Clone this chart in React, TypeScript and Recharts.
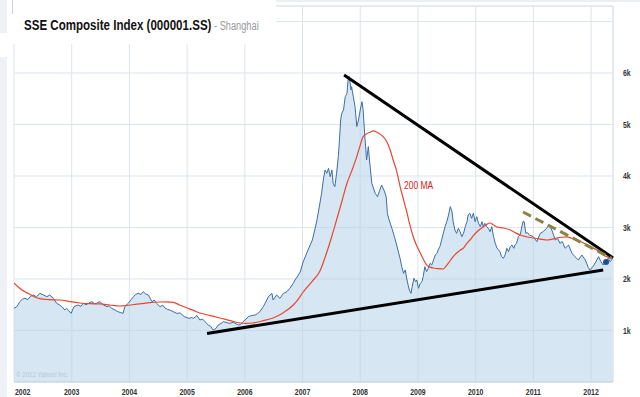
import React from 'react';
import {ComposedChart, Area, Line, XAxis, YAxis, CartesianGrid, ReferenceLine, ReferenceDot} from 'recharts';

// weekly close: [year fraction, index]
const close2002to2004: [number, number][] = [
  [2002.0, 1431], [2002.05, 1463], [2002.1, 1560], [2002.15, 1610], [2002.19, 1625], [2002.24, 1600],
  [2002.28, 1657], [2002.33, 1689], [2002.39, 1657], [2002.45, 1722], [2002.51, 1689], [2002.57, 1657],
  [2002.62, 1689], [2002.68, 1625], [2002.74, 1528], [2002.79, 1495], [2002.83, 1463], [2002.88, 1398],
  [2002.91, 1431], [2002.95, 1380], [2002.99, 1333], [2003.04, 1463], [2003.11, 1495], [2003.16, 1470],
  [2003.2, 1528], [2003.25, 1500], [2003.29, 1528], [2003.35, 1560], [2003.4, 1520], [2003.43, 1528],
  [2003.49, 1560], [2003.55, 1495], [2003.61, 1463], [2003.65, 1480], [2003.69, 1431], [2003.75, 1398],
  [2003.8, 1366], [2003.84, 1350], [2003.89, 1333], [2003.92, 1463], [2003.98, 1528], [2004.03, 1600],
  [2004.07, 1657], [2004.11, 1700], [2004.15, 1722], [2004.2, 1700], [2004.24, 1754], [2004.28, 1710],
  [2004.33, 1689], [2004.39, 1560], [2004.43, 1590], [2004.47, 1528], [2004.53, 1463], [2004.58, 1490],
  [2004.62, 1431], [2004.66, 1410], [2004.7, 1398], [2004.76, 1366], [2004.82, 1333], [2004.88, 1340],
  [2004.95, 1270],
];

const close2005to2007: [number, number][] = [
  [2005.03, 1236], [2005.08, 1250], [2005.11, 1236], [2005.17, 1290], [2005.22, 1204], [2005.27, 1220],
  [2005.31, 1172], [2005.37, 1100], [2005.41, 1080], [2005.45, 1010], [2005.5, 1040], [2005.54, 1107],
  [2005.59, 1140], [2005.63, 1172], [2005.7, 1150], [2005.74, 1139], [2005.8, 1160], [2005.85, 1130],
  [2005.89, 1107], [2005.93, 1120], [2005.97, 1172], [2006.02, 1220], [2006.06, 1269], [2006.12, 1290],
  [2006.18, 1301], [2006.22, 1330], [2006.26, 1366], [2006.32, 1463], [2006.35, 1528], [2006.41, 1657],
  [2006.47, 1722], [2006.49, 1592], [2006.55, 1689], [2006.61, 1625], [2006.67, 1722], [2006.73, 1754],
  [2006.78, 1819], [2006.84, 1916], [2006.87, 1981], [2006.92, 2060], [2006.96, 2136], [2007.01, 2330],
  [2007.06, 2466], [2007.11, 2602], [2007.17, 2757], [2007.22, 2990],
];

const close2007to2008: [number, number][] = [
  [2007.25, 3146], [2007.29, 3400], [2007.33, 3663], [2007.36, 3922], [2007.39, 4117], [2007.42, 4052],
  [2007.45, 4149], [2007.48, 3987], [2007.51, 4117], [2007.53, 3858], [2007.56, 3793], [2007.59, 4052],
  [2007.62, 4375], [2007.64, 4699], [2007.66, 5087], [2007.68, 5217], [2007.71, 5282], [2007.74, 5540],
  [2007.77, 5605], [2007.79, 5864], [2007.81, 5930], [2007.84, 5670], [2007.85, 5734], [2007.88, 5540],
  [2007.91, 5346], [2007.94, 4958], [2007.97, 5087], [2008.0, 5282], [2008.03, 5443], [2008.05, 5282],
  [2008.08, 4763], [2008.11, 4311], [2008.14, 4569], [2008.16, 4311], [2008.2, 3858], [2008.26, 3663],
  [2008.3, 3599], [2008.34, 3728], [2008.37, 3825], [2008.41, 3728], [2008.45, 3599], [2008.47, 3275],
  [2008.5, 3146], [2008.55, 2980], [2008.6, 2790], [2008.64, 2620],
];

const close2008to2010: [number, number][] = [
  [2008.69, 2401], [2008.72, 2239], [2008.75, 2110], [2008.78, 2175], [2008.81, 1981], [2008.83, 1883],
  [2008.85, 1786], [2008.88, 1722], [2008.9, 1851], [2008.93, 2013], [2008.96, 1948], [2008.98, 1981],
  [2009.01, 1819], [2009.04, 1916], [2009.07, 1948], [2009.09, 2045], [2009.12, 2239], [2009.15, 2142],
  [2009.18, 2207], [2009.21, 2304], [2009.24, 2272], [2009.27, 2369], [2009.3, 2466], [2009.33, 2498],
  [2009.35, 2563], [2009.38, 2628], [2009.41, 2757], [2009.44, 2887], [2009.47, 3016], [2009.5, 3113],
  [2009.53, 3243], [2009.56, 3405], [2009.59, 3307], [2009.61, 3113], [2009.64, 2951], [2009.67, 2887],
  [2009.7, 2984], [2009.73, 2919], [2009.76, 2822], [2009.79, 2887], [2009.82, 3016], [2009.85, 3113],
  [2009.87, 3243], [2009.9, 3275], [2009.93, 3178], [2009.96, 3275], [2009.99, 3113], [2010.02, 3210],
  [2010.05, 3081], [2010.08, 3016], [2010.11, 3113], [2010.13, 3016], [2010.16, 3081], [2010.19, 3016],
  [2010.22, 2984], [2010.25, 2919], [2010.28, 3016], [2010.31, 2822], [2010.34, 2693], [2010.37, 2595],
  [2010.4, 2563], [2010.42, 2531], [2010.45, 2434], [2010.48, 2401], [2010.51, 2466], [2010.54, 2595],
  [2010.57, 2531], [2010.6, 2628], [2010.63, 2660], [2010.66, 2595], [2010.68, 2660], [2010.71, 2693],
  [2010.74, 2822], [2010.77, 2854],
];

const close2010to2012: [number, number][] = [
  [2010.82, 3113], [2010.84, 3113], [2010.87, 2887], [2010.9, 2900], [2010.93, 2854], [2011.0, 2822],
  [2011.06, 2725], [2011.12, 2887], [2011.17, 2919], [2011.23, 2984], [2011.27, 3049], [2011.32, 2951],
  [2011.38, 2757], [2011.42, 2790], [2011.46, 2693], [2011.5, 2730], [2011.55, 2596], [2011.61, 2660],
  [2011.67, 2499], [2011.72, 2434], [2011.78, 2369], [2011.84, 2466], [2011.9, 2369], [2011.95, 2227],
  [2011.98, 2175], [2012.04, 2252], [2012.1, 2369], [2012.13, 2434], [2012.17, 2336], [2012.21, 2272],
  [2012.26, 2369], [2012.3, 2401], [2012.33, 2336], [2012.37, 2388],
];

// 200 day moving average
const ma2002to2006: [number, number][] = [
  [2002.0, 1916], [2002.07, 1850], [2002.14, 1786], [2002.21, 1740], [2002.28, 1700], [2002.36, 1650],
  [2002.45, 1618], [2002.6, 1600], [2002.8, 1592], [2002.97, 1560], [2003.14, 1534], [2003.32, 1520],
  [2003.49, 1515], [2003.66, 1495], [2003.84, 1476], [2004.01, 1495], [2004.18, 1515], [2004.35, 1540],
  [2004.53, 1553], [2004.65, 1555], [2004.76, 1545], [2004.88, 1490], [2005.0, 1437], [2005.11, 1390],
  [2005.22, 1340], [2005.4, 1290], [2005.57, 1243], [2005.75, 1190], [2005.92, 1146], [2006.03, 1140],
  [2006.14, 1146], [2006.32, 1190], [2006.49, 1243], [2006.66, 1340], [2006.84, 1495],
];

const ma2007to2009: [number, number][] = [
  [2006.92, 1600], [2007.0, 1728], [2007.08, 1840], [2007.17, 1960], [2007.3, 2150], [2007.4, 2450],
  [2007.5, 2800], [2007.59, 3146], [2007.68, 3500], [2007.77, 3858], [2007.86, 4120], [2007.94, 4375],
  [2008.0, 4600], [2008.05, 4763], [2008.11, 4820], [2008.17, 4850], [2008.23, 4874], [2008.29, 4850],
  [2008.34, 4816], [2008.4, 4760], [2008.46, 4666], [2008.52, 4500], [2008.57, 4311], [2008.63, 4100],
  [2008.69, 3800], [2008.75, 3540], [2008.81, 3282], [2008.86, 3050], [2008.92, 2816], [2008.98, 2640],
  [2009.04, 2505], [2009.1, 2370], [2009.15, 2272], [2009.21, 2230], [2009.27, 2214], [2009.35, 2200],
  [2009.44, 2194], [2009.48, 2240], [2009.53, 2311], [2009.6, 2420], [2009.67, 2505], [2009.73, 2560],
  [2009.79, 2602], [2009.84, 2680], [2009.9, 2757], [2009.96, 2840],
];

const ma2010to2012: [number, number][] = [
  [2010.02, 2913], [2010.08, 2970], [2010.13, 3010], [2010.19, 3060], [2010.25, 3087], [2010.31, 3050],
  [2010.37, 3010], [2010.48, 2990], [2010.6, 2951], [2010.7, 2890], [2010.77, 2854], [2010.88, 2820],
  [2011.0, 2796], [2011.12, 2775], [2011.24, 2757], [2011.33, 2775], [2011.41, 2796], [2011.5, 2810],
  [2011.58, 2816], [2011.67, 2790], [2011.76, 2757], [2011.85, 2710], [2011.93, 2660], [2012.01, 2615],
  [2012.1, 2563], [2012.16, 2515], [2012.21, 2466], [2012.27, 2435], [2012.33, 2408], [2012.37, 2395],
];

// hand drawn trend lines
const upperTrend: [number, number][] = [[2007.72, 5960], [2012.38, 2410]];
const lowerTrend: [number, number][] = [[2005.345, 942], [2012.21, 2175]];
const shortTrend: [number, number][] = [[2010.82, 3301], [2012.36, 2398]];
const lastQuote: [number, number] = [2012.26, 2330];

const yearTicks = [2002, 2003, 2004, 2005, 2006, 2007, 2008, 2009, 2010, 2011, 2012];
const valueTicks = [1000, 2000, 3000, 4000, 5000, 6000, 7000];

const closeData = [...close2002to2004, ...close2005to2007, ...close2007to2008, ...close2008to2010, ...close2010to2012].map(
  ([t, v]) => ({t, v}),
);
const maData = [...ma2002to2006, ...ma2007to2009, ...ma2010to2012].map(([t, v]) => ({t, v}));
const seg = (s: [number, number][]) => s.map(([x, y]) => ({x, y}));

const FONT = '"Liberation Sans", Arial, sans-serif';
const GRID = '#dbe4ed';

const renderXTick = (props: any) => {
  const {x, payload} = props;
  const first = payload.value === 2002;
  return (
    <text
      transform={`translate(${first ? x + 1 : x},395) scale(0.77,1)`}
      textAnchor={first ? 'start' : 'middle'}
      fontSize={9}
      fontWeight="bold"
      fontFamily={FONT}
      fill="#333">
      {payload.value}
    </text>
  );
};

const renderYTick = (props: any) => {
  const {x, y, payload} = props;
  if (payload.value >= 7000) return <g />;
  return (
    <text
      transform={`translate(${x + 2},${y + 3.5}) scale(0.77,1)`}
      textAnchor="start"
      fontSize={9}
      fontWeight="bold"
      fontFamily={FONT}
      fill="#333">
      {payload.value / 1000}k
    </text>
  );
};

const squeeze: React.CSSProperties = {
  position: 'absolute',
  whiteSpace: 'nowrap',
  transform: 'scaleX(0.77)',
  transformOrigin: '0 0',
  fontFamily: FONT,
};

export default function App() {
  return (
    <div style={{position: 'absolute', left: 0, top: 0, width: 640, height: 397, background: '#fff', overflow: 'hidden'}}>
      <ComposedChart width={640} height={397} margin={{top: 6, right: 0, bottom: 0, left: 14}}>
        <CartesianGrid stroke={GRID} strokeWidth={1} />
        <XAxis
          dataKey="t"
          type="number"
          domain={[2002, 2012.38]}
          allowDataOverflow
          ticks={yearTicks}
          interval={0}
          height={15}
          tickLine={false}
          axisLine={{stroke: '#c3d4e3'}}
          tick={renderXTick}
        />
        <YAxis
          orientation="right"
          type="number"
          domain={[0, 7300]}
          allowDataOverflow
          ticks={valueTicks}
          interval={0}
          width={27}
          axisLine={false}
          tickLine={false}
          tick={renderYTick}
        />
        <ReferenceLine y={7300} stroke={GRID} ifOverflow="visible" />
        <ReferenceLine x={2012.38} stroke={GRID} ifOverflow="visible" />
        <Area
          data={closeData}
          dataKey="v"
          type="linear"
          stroke="#3c6ea6"
          strokeWidth={1}
          fill="#bbd5e9"
          fillOpacity={0.6}
          baseValue={0}
          dot={false}
          activeDot={false}
          isAnimationActive={false}
        />
        <Line
          data={maData}
          dataKey="v"
          type="monotone"
          stroke="#e8472f"
          strokeWidth={1.2}
          dot={false}
          activeDot={false}
          isAnimationActive={false}
        />
        <ReferenceLine segment={seg(upperTrend)} stroke="#000" strokeWidth={3} ifOverflow="visible" />
        <ReferenceLine segment={seg(lowerTrend)} stroke="#000" strokeWidth={3} ifOverflow="visible" />
        <ReferenceLine
          segment={seg(shortTrend)}
          stroke="#8c8246"
          strokeWidth={3}
          strokeDasharray="9 5"
          ifOverflow="visible"
        />
        <ReferenceDot x={lastQuote[0]} y={lastQuote[1]} r={3} fill="#1d4f8f" stroke="none" ifOverflow="visible" />
      </ComposedChart>

      <div style={{position: 'absolute', left: 0, top: 0, width: 7, height: 33, background: '#eef2f6'}} />
      <div style={{position: 'absolute', left: 0, top: 57, width: 7, height: 340, background: '#eef2f6'}} />
      <div style={{position: 'absolute', left: 276, top: 0, width: 364, height: 2, background: '#eceff2'}} />
      <div style={{position: 'absolute', left: 8, top: 0, width: 268, height: 44, background: '#fff'}} />
      <div style={{position: 'absolute', left: 12, top: 0, width: 1, height: 14, background: '#c9d3dc'}} />

      <div style={{...squeeze, left: 24, top: 17, fontSize: 15, lineHeight: '15px', fontWeight: 'bold', color: '#111'}}>
        SSE Composite Index (000001.SS)
      </div>
      <div style={{...squeeze, left: 214, top: 20, fontSize: 12, lineHeight: '12px', color: '#999'}}>- Shanghai</div>
      <div style={{...squeeze, left: 404, top: 180, fontSize: 11, lineHeight: '11px', color: '#e0201b'}}>200 MA</div>
      <div style={{...squeeze, left: 16, top: 371, fontSize: 8, lineHeight: '8px', color: '#b3c6d8'}}>
        © 2012 Yahoo! Inc.
      </div>
    </div>
  );
}
